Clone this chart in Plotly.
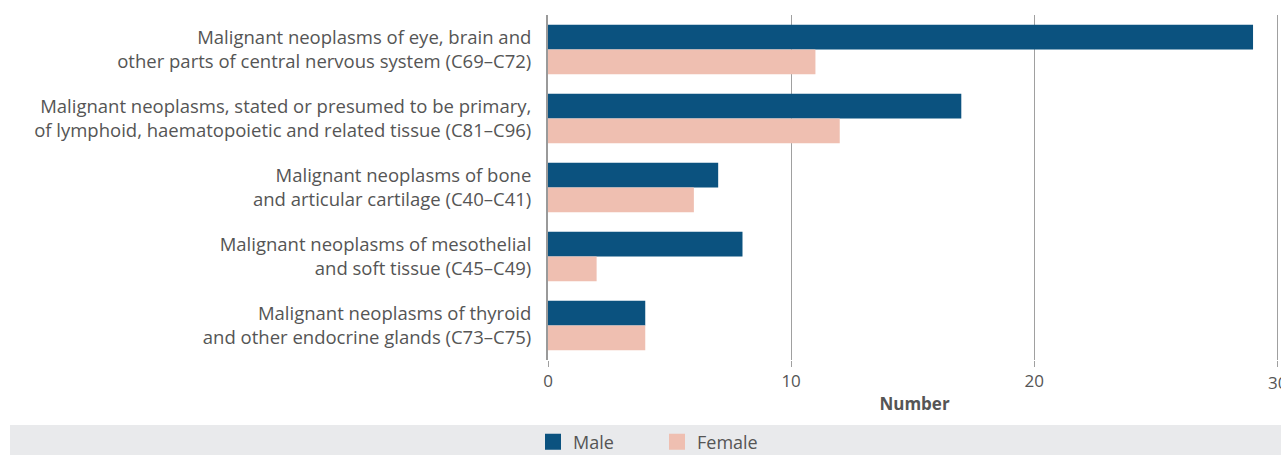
"""Horizontal grouped bar chart: malignant neoplasms by sex."""
import plotly.graph_objects as go

categories = [
    "Malignant neoplasms of eye, brain and<br>other parts of central nervous system (C69–C72)",
    "Malignant neoplasms, stated or presumed to be primary,<br>of lymphoid, haematopoietic and related tissue (C81–C96)",
    "Malignant neoplasms of bone<br>and articular cartilage (C40–C41)",
    "Malignant neoplasms of mesothelial<br>and soft tissue (C45–C49)",
    "Malignant neoplasms of thyroid<br>and other endocrine glands (C73–C75)",
]
male = [29, 17, 7, 8, 4]
female = [11, 12, 6, 2, 4]
x_ticks = [0, 10, 20, 30]

FONT = "Open Sans"
TEXT = "#555555"
MALE_C = "#0b527f"
FEMALE_C = "#efbfb1"

fig = go.Figure()
fig.add_trace(go.Bar(y=categories, x=male, name="Male", orientation="h",
                     marker=dict(color=MALE_C, line_width=0), showlegend=False))
fig.add_trace(go.Bar(y=categories, x=female, name="Female", orientation="h",
                     marker=dict(color=FEMALE_C, line_width=0), showlegend=False))
# legend-only entries with larger square swatches
for name, col in [("Male", MALE_C), ("Female", FEMALE_C)]:
    fig.add_trace(go.Scatter(x=[None], y=[None], mode="markers", name=name,
                             marker=dict(symbol="square", size=16, color=col)))

W, H = 1281, 455
L, R, T, B = 548, 0, 15, 95
pw = W - L - R
ph = H - T - B

# grey band behind the legend
fig.add_shape(type="rect", xref="paper", yref="paper", layer="below",
              x0=(10 - L) / pw, x1=(W + 5 - L) / pw,
              y0=-(H - T - ph + 5) / ph, y1=-(425 - T - ph) / ph,
              fillcolor="#e9eaec", line_width=0)

# plotly hides the last tick label because it runs off the page; draw it as text
fig.add_annotation(x=x_ticks[-1], xref="x", y=-22 / ph, yref="paper",
                   text=str(x_ticks[-1]), showarrow=False, yanchor="middle",
                   xanchor="center", font=dict(size=17, color=TEXT))

fig.update_layout(
    width=W, height=H,
    margin=dict(l=L, r=R, t=T, b=B, autoexpand=False),
    barmode="group", bargap=0.28, bargroupgap=0,
    plot_bgcolor="white", paper_bgcolor="white",
    font=dict(family=FONT, size=17, color=TEXT),
    showlegend=True,
    legend=dict(orientation="h", x=(533 - L) / pw, xanchor="left",
                y=-(442 - T - ph) / ph, yanchor="middle",
                bgcolor="rgba(0,0,0,0)", font=dict(size=18, color=TEXT),
                entrywidth=79, entrywidthmode="pixels", itemwidth=30,
                traceorder="normal"),
    xaxis=dict(range=[0, 30.15], tickvals=x_ticks, showgrid=True, gridcolor="#a0a0a0",
               gridwidth=1, zeroline=False, showline=False, ticks="outside",
               ticklen=6, tickcolor="#a0a0a0", automargin=False,
               tickfont=dict(size=17, color=TEXT),
               title=dict(text="<b>Number</b>", font=dict(size=17, color=TEXT), standoff=6)),
    yaxis=dict(autorange="reversed", showline=True, linecolor="#9a9a9a", linewidth=2,
               ticks="", ticklabelstandoff=11, showgrid=False, automargin=False,
               tickfont=dict(size=18.5, color=TEXT)),
)

# drop the default 8px page margin so the figure fills the window exactly
fig.write_html("out.html", config={"displayModeBar": False},
               post_script="document.body.style.margin='0';")
